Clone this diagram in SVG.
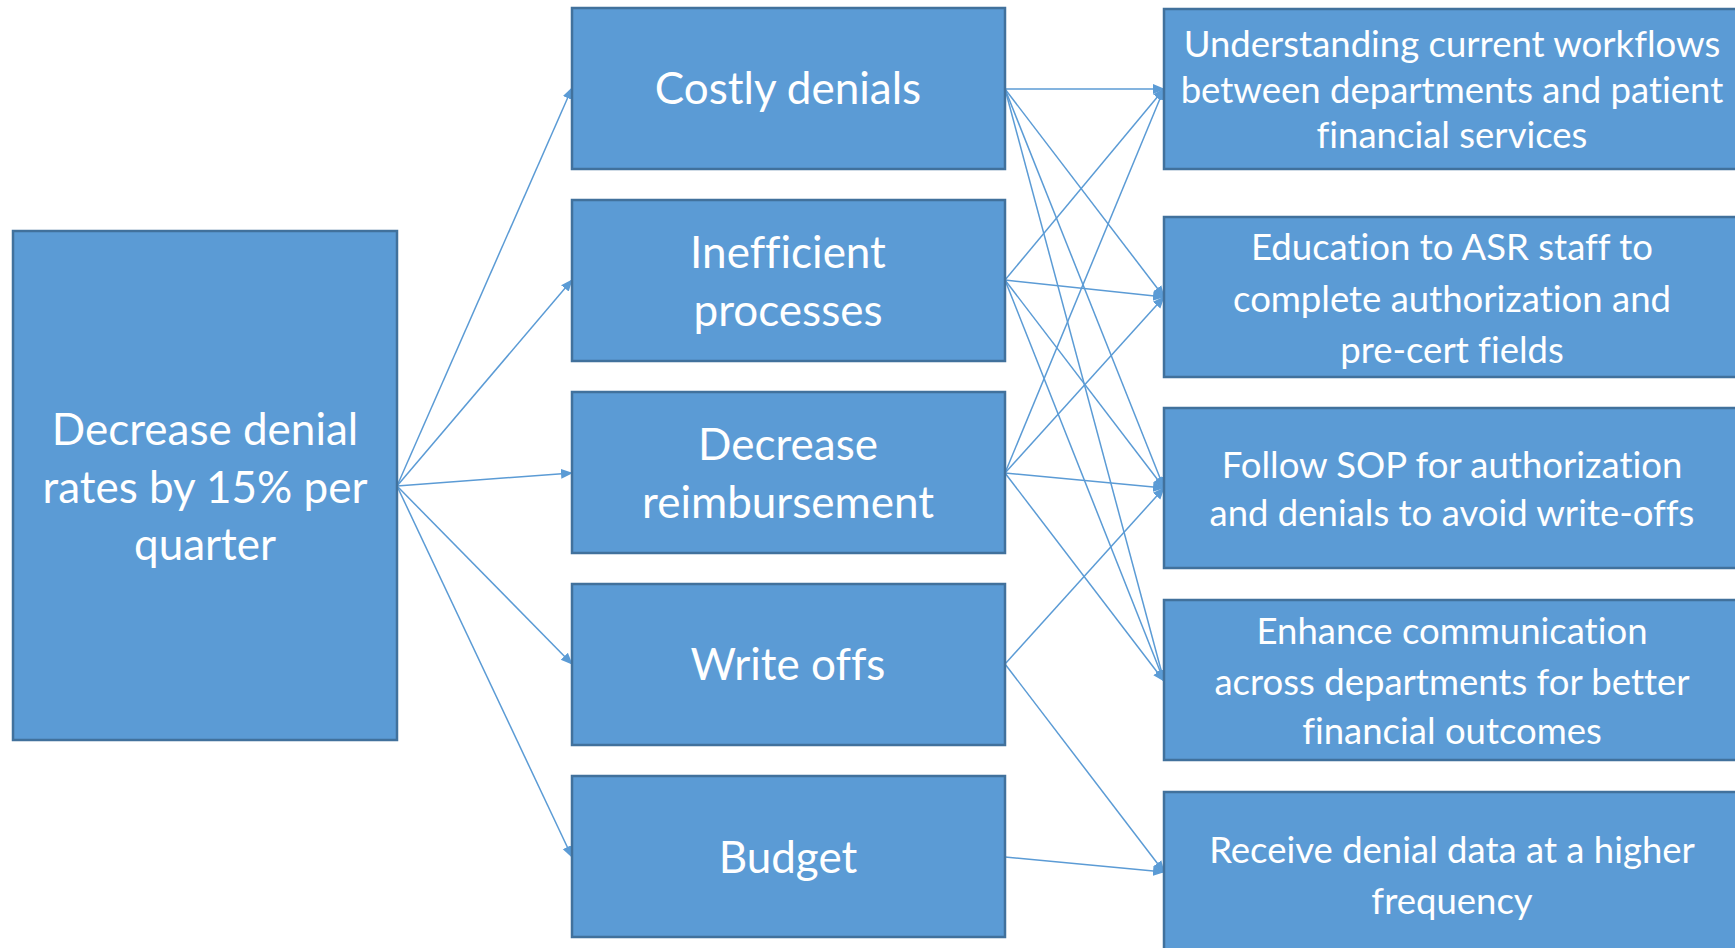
<svg xmlns="http://www.w3.org/2000/svg" width="1735" height="948" viewBox="0 0 1735 948">
<style>
.box{fill:#5B9BD5;stroke:#41719C;stroke-width:2.5}
.t{font-family:Lato,"Open Sans","Liberation Sans",sans-serif;fill:#FFFFFF;text-anchor:middle;font-variant-ligatures:none}
.big{font-size:44px}
.sm{font-size:36.5px}
.c{fill:none;stroke:#5B9BD5;stroke-width:1.5;marker-end:url(#ah)}
</style>
<defs>
<marker id="ah" markerUnits="userSpaceOnUse" markerWidth="12" markerHeight="12" viewBox="0 0 12 12" refX="11" refY="6" orient="auto">
<path d="M0,1 L12,6 L0,11 Z" fill="#5B9BD5"/>
</marker>
</defs>
<rect width="1735" height="948" fill="#FFFFFF"/>
<g id="connectors">
<line class="c" x1="397" y1="486" x2="572" y2="88"/>
<line class="c" x1="397" y1="486" x2="572" y2="280"/>
<line class="c" x1="397" y1="486" x2="572" y2="473"/>
<line class="c" x1="397" y1="486" x2="572" y2="664"/>
<line class="c" x1="397" y1="486" x2="572" y2="857"/>
<line class="c" x1="1005" y1="89" x2="1164" y2="89"/>
<line class="c" x1="1005" y1="89" x2="1164" y2="297"/>
<line class="c" x1="1005" y1="89" x2="1164" y2="488"/>
<line class="c" x1="1005" y1="89" x2="1164" y2="681"/>
<line class="c" x1="1005" y1="280" x2="1164" y2="89"/>
<line class="c" x1="1005" y1="280" x2="1164" y2="297"/>
<line class="c" x1="1005" y1="280" x2="1164" y2="488"/>
<line class="c" x1="1005" y1="280" x2="1164" y2="681"/>
<line class="c" x1="1005" y1="473" x2="1164" y2="89"/>
<line class="c" x1="1005" y1="473" x2="1164" y2="297"/>
<line class="c" x1="1005" y1="473" x2="1164" y2="488"/>
<line class="c" x1="1005" y1="473" x2="1164" y2="681"/>
<line class="c" x1="1005" y1="664" x2="1164" y2="488"/>
<line class="c" x1="1005" y1="664" x2="1164" y2="872"/>
<line class="c" x1="1005" y1="857" x2="1164" y2="872"/>
</g>
<g id="goal">
<rect class="box" x="13" y="231" width="384" height="509"/>
<text class="t big" x="205"><tspan x="205" y="445">Decrease denial</tspan><tspan x="205" y="503">rates by 15% per</tspan><tspan x="205" y="560">quarter</tspan></text>
</g>
<g id="costly">
<rect class="box" x="572" y="8" width="433" height="161"/>
<text class="t big" x="788"><tspan x="788" y="104">Costly denials</tspan></text>
</g>
<g id="inefficient">
<rect class="box" x="572" y="200" width="433" height="161"/>
<text class="t big" x="788"><tspan x="788" y="268">Inefficient</tspan><tspan x="788" y="326">processes</tspan></text>
</g>
<g id="reimbursement">
<rect class="box" x="572" y="392" width="433" height="161"/>
<text class="t big" x="788"><tspan x="788" y="460">Decrease</tspan><tspan x="788" y="518">reimbursement</tspan></text>
</g>
<g id="writeoffs">
<rect class="box" x="572" y="584" width="433" height="161"/>
<text class="t big" x="788"><tspan x="788" y="680">Write offs</tspan></text>
</g>
<g id="budget">
<rect class="box" x="572" y="776" width="433" height="161"/>
<text class="t big" x="788"><tspan x="788" y="873">Budget</tspan></text>
</g>
<g id="workflows">
<rect class="box" x="1164" y="9" width="580" height="160"/>
<text class="t sm"><tspan x="1452" y="57">Understanding current workflows</tspan><tspan x="1452" y="103">between departments and patient</tspan><tspan x="1452" y="148">financial services</tspan></text>
</g>
<g id="education">
<rect class="box" x="1164" y="217" width="580" height="160"/>
<text class="t sm"><tspan x="1452" y="260">Education to ASR staff to</tspan><tspan x="1452" y="312">complete authorization and</tspan><tspan x="1452" y="363">pre-cert fields</tspan></text>
</g>
<g id="sop">
<rect class="box" x="1164" y="408" width="580" height="160"/>
<text class="t sm"><tspan x="1452" y="478">Follow SOP for authorization</tspan><tspan x="1452" y="526">and denials to avoid write-offs</tspan></text>
</g>
<g id="communication">
<rect class="box" x="1164" y="600" width="580" height="160"/>
<text class="t sm"><tspan x="1452" y="644">Enhance communication</tspan><tspan x="1452" y="695">across departments for better</tspan><tspan x="1452" y="744">financial outcomes</tspan></text>
</g>
<g id="frequency">
<rect class="box" x="1164" y="792" width="580" height="170"/>
<text class="t sm"><tspan x="1452" y="863">Receive denial data at a higher</tspan><tspan x="1452" y="914">frequency</tspan></text>
</g>
</svg>
